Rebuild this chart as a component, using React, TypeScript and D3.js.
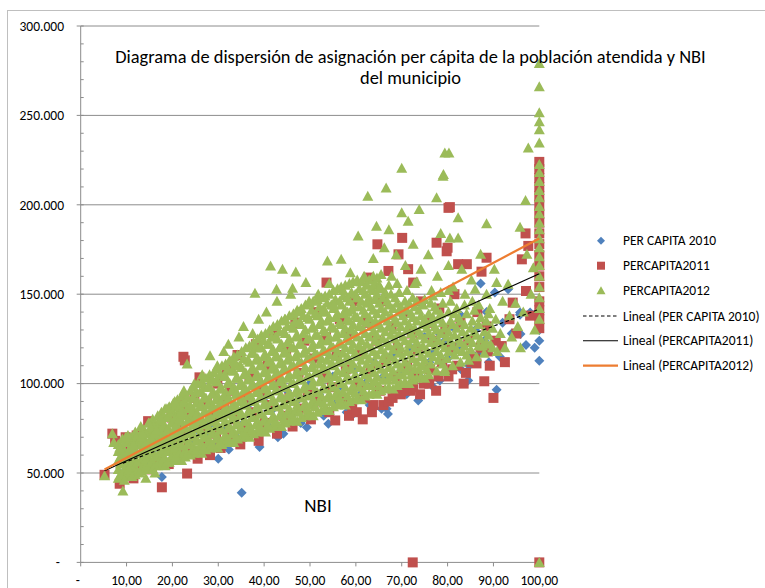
import React from "react";
import * as d3 from "d3";

// NBI (%) vs per-capita allocation (thousands of pesos)
const perCapita2010: [number, number][] = [
  [9.2,50],[10.7,49.7],[11.5,56],[12.5,52],[13.5,60],[14.5,55],[15.5,62],[16.5,58],[17.7,47.8],[18.5,64],[19.5,57],[20.5,66],[21.5,60],[22.5,70],[23.5,62],[24.5,68],[25.5,74],[26.5,64],[27.5,72],[28.5,78],[29.5,66],[30,58],[31,76],[32.3,63.2],[33,82],[34,70],[35.1,39],[35.5,78],[36.5,88],[37.5,72],[38.5,84],[39,64.5],[40,92],[41,76],[42,86],[43,70],[44.2,72],[45,96],[46,82],[47,90],[48,78],[49.3,75.6],[50,100],[51,88],[52,94],[53,82],[54,77.5],[55,104],[56,90],[57,98],[58,84],[59.1,82.2],[59.1,86.8],[60,108],[61,94],[62,100],[63,88],[64,112],[65.6,85.9],[66.7,85.9],[66,104],[67,83],[68,116],[69,96],[70,108],[71.1,94.2],[72,120],[73.6,90.5],[74,104],[75,126],[76,112],[76.9,97.9],[77,118],[78.3,101.7],[78.3,127.7],[79.4,124],[80,114],[81,132],[82,120],[82.9,108],[83,138],[84.5,101.7],[84.7,110],[85.3,116.5],[86.7,116.5],[86,130],[87.2,156],[88,124],[88.5,140],[89,112],[90.3,150.9],[90.7,96.5],[91.4,115],[92,134],[93.2,152.8],[94,128],[95.8,139.7],[95.8,138.5],[95.9,127.7],[97.1,121.6],[98,139.7],[99,120],[100,124],[100,112.8],[100,130],[100,140]
];

const perCapita2011: [number, number][] = [
  [5.2,49],[6.9,72],[7.5,68],[8.5,44],[9.8,70],[10.2,56],[10.8,62],[11.5,47],[12.2,71],[12.8,53],[13.5,66],[14.2,60],[14.7,79],[15.5,52],[16.2,69],[16.8,58],[17.7,42],[17.5,74],[18.5,63],[19.2,55],[19.8,81],[20.5,68],[21.2,60],[21.8,88],[22.4,115],[22.7,113],[22.2,74],[23.2,49.7],[23.5,64],[24.2,82],[24.8,92],[25.5,58],[25.9,103.5],[26.2,76],[26.8,66],[27.5,90],[28.2,60],[28.8,82],[29.5,72],[29.8,100],[30.5,64],[31.2,88],[31.8,108],[32.2,70],[32.8,96],[33.5,80],[34.2,116],[34.8,66],[35.5,92],[36.2,74],[36.8,104],[37.5,84],[38.2,122],[38.8,68],[39.5,96],[40.2,78],[40.8,110],[41.5,88],[42.2,128],[42.8,72],[43.5,100],[44.2,82],[44.8,118],[45.5,92],[46.2,76],[46.8,134],[47.5,106],[48.2,86],[48.8,124],[49.5,96],[50.2,80],[50.8,114],[51.5,140],[52.2,90],[52.8,104],[53.6,156.5],[53.5,126],[54.2,84],[54.8,98],[55.5,79.4],[55.8,116],[56.5,136],[57.2,92],[57.8,108],[58.5,128],[58.5,82],[59.2,86],[59.8,146],[60.2,84],[60.5,100],[61.2,118],[61.5,80],[61.8,92],[62.7,159.3],[62.5,134],[63.2,108],[63.5,84],[63.8,88],[64.7,177.9],[64.5,124],[65.2,96],[65.8,146],[66,88],[66.5,112],[67.1,163],[67.2,90],[67.8,132],[68,92],[68.5,104],[69.3,172.3],[69.2,120],[69.8,94],[70,96],[70.1,181.5],[70.5,140],[71.2,110],[71.4,164],[71.8,96],[72.5,156.5],[72.2,128],[72.4,0],[72.5,98],[72.8,104],[73.5,118],[74,94],[74.2,146],[74.8,100],[75.5,134],[76,100],[76.2,108],[76.8,124],[77.6,178.8],[77.5,96],[78,104],[78.2,142],[78.8,112],[79.8,174],[79.5,130],[80,176],[80.2,198.3],[80.5,198.7],[80.2,104],[80.8,120],[81,108],[81.5,150],[82.3,166.8],[82.2,110],[82.8,134],[83.5,100],[84,106],[84.2,166.8],[84.5,124],[85.2,112],[86,114],[86.3,111.3],[86.5,140],[87.4,162.6],[87.2,120],[88,101.3],[88.5,170.4],[88.5,132],[88.8,118],[89.2,110],[90,92],[90.5,124],[91.8,121],[92.5,112],[93.5,136],[94.2,145.3],[95,128],[96.2,169.5],[97,184],[97.6,177],[97.1,151.8],[98,138],
  [100,224],[100,220],[100,215],[100,210],[100,205],[100,200],[100,195],[100,190],[100,184],[100,178],[100,172],[100,166],[100,160],[100,154],[100,146],[100,141],[100,136],[100,131],[100,0]
];

// 2012: scattered points and outliers
const perCapita2012: [number, number][] = [
  [5.2,48.5],[6.9,72],[7.2,67],[8.5,64],[9.2,40],[9.5,46],[9.8,70],[10.5,52],[11.2,48],[11.5,66],[12.8,50],[13.2,70],[13.5,72],[14.2,47],[14.8,78],[16.2,50],[16.5,74],[17.5,80],[18.8,86],[20.5,90],[21.8,84],[22.5,96],[23.2,111],[23.8,88],[24.8,100],[26.5,105],[28.2,115.6],[28.8,102],[29.8,110],[31.2,118],[32.2,122],[33.5,112],[34.5,126],[35.5,132],[37.5,128],[38,150.6],[38.8,136],[40.5,140],[41.4,165.8],[42.7,152.8],[42.8,146],[44,164],[44.5,136],[45.8,150],[46.9,162.4],[46.2,153.3],[47.5,140],[49.1,156.5],[49.8,146],[51.8,150],[52.8,140],[53.8,168.5],[54.2,156],[55.2,144],[56.8,169.5],[57.2,152],[58.2,140],[58.8,162],[60.2,148],[60.5,182.5],[61.8,160],[62.6,204.8],[62.5,146],[63.8,170],[64.5,188],[65.2,154],[66.2,176],[66.6,209.4],[67.2,186],[67.8,160],[68.8,172],[70,220.5],[70,195.5],[70.8,166],[71.4,190.8],[72.5,178],[72.8,156],[73.8,197.4],[74.2,164],[75.8,172],[76.5,152],[77.6,203.9],[77.8,160],[78.5,184],[79,216],[79.1,216.9],[79.4,229],[80.3,229],[79.4,106.7],[80.2,166],[80.5,181.5],[81.2,154],[82.3,192.7],[82.3,181.5],[83.1,164],[83.8,150],[85.2,158],[86,152.8],[86.8,144],[87.2,172.3],[88.5,189.4],[88.5,150],[89.2,142],[90.2,164],[90.7,156.5],[90.5,136],[90.8,118],[91.5,128],[92,146],[92.5,120],[93.2,155.6],[93.5,138],[94,126],[94.8,145],[95.3,132],[95.8,187.5],[95.9,120],[96.5,140],[97,202.4],[97.3,172.3],[97.6,231.7],[98.2,150],[98.7,164.8],[99,130],
  [100,279],[100,266],[100,251.5],[100,246.5],[100,242],[100,234.5],[100,222.6],[100,218],[100,213],[100,208],[100,204],[100,199],[100,195],[100,190],[100,186],[100,181],[100,176],[100,171],[100,166],[100,160],[100,154],[100,148],[100,142],[100,136],[100,0]
];

// 2012: dense core of the cloud, one row per NBI value: [nbi, values...]
const perCapita2012Core: number[][] = [
  [8.2,47,52,57,62,66],[9.1,49,55,60,64,69],[10.3,48,51,56,61,67,71],[11.0,50,54,59,65,70],[11.9,49,53,58,63,68,73],
  [13.1,51,57,61,66,72,76],[13.8,52,55,60,64,69,74],[14.9,53,58,63,67,73,78],[15.7,52,56,62,69,75,80],[16.8,54,59,65,70,77,82],
  [17.6,55,61,64,72,79,84],[18.4,54,58,66,71,76,86],[19.3,56,62,68,74,81,87],[20.2,57,60,67,73,78,84,89],[21.1,58,63,70,76,83,91],
  [22.0,57,65,72,79,86,93],[22.8,59,62,69,75,82,89,94],[23.9,60,66,73,81,87,96],[24.7,61,64,71,78,85,92,98],[25.5,62,68,75,83,90,100],
  [26.4,61,66,73,80,88,95,101],[27.3,63,70,77,84,92,103],[28.1,64,68,75,82,90,98,105],[29.0,65,72,79,87,95,106],[29.9,64,70,77,85,93,101,108],
  [30.8,66,74,81,89,97,110],[31.6,67,71,79,87,95,104,111],[32.5,68,76,83,91,100,113],[33.4,67,73,81,89,98,107,115],[34.2,69,78,86,94,103,116],
  [35.1,70,75,83,92,100,109,118],[36.0,71,79,88,97,106,120],[36.8,70,77,85,94,103,112,121],[37.7,72,81,90,99,108,117,123],[38.6,73,79,87,96,105,114,125],
  [39.4,74,83,92,101,110,120,127],[40.3,73,80,89,98,107,116,128],[41.2,75,85,94,103,113,122,130],[42.0,76,82,91,100,110,119,132],[42.9,77,87,96,106,115,125,133],
  [43.8,76,84,93,103,112,122,135],[44.6,78,88,98,108,118,128,136],[45.5,79,86,95,105,115,125,138],[46.4,80,90,100,110,120,131,139],[47.2,79,88,97,107,117,127,141],
  [48.1,81,92,102,112,122,133,142],[49.0,82,89,99,109,119,130,144],[49.9,83,93,104,114,125,136,145],[50.7,82,91,101,111,122,132,146],[51.6,84,95,106,116,127,138,147],
  [52.5,85,93,103,114,124,135,148],[53.3,86,97,108,118,129,140,149],[54.2,85,94,105,116,126,137,150],[55.1,87,98,110,120,131,142,152],[56.0,88,96,107,118,128,139,153],
  [56.8,89,100,112,122,133,144,154],[57.7,88,98,109,120,131,141,155],[58.6,90,102,113,124,135,146,156],[59.4,91,99,111,122,133,143,157],[60.3,92,103,115,126,137,148,158],
  [61.2,91,101,113,124,135,146,157],[62.0,93,105,116,128,139,150,159],[62.9,94,103,114,126,137,148,158],[63.8,95,106,118,129,141,152,160],[64.6,94,104,116,127,139,150,159],
  [65.5,96,108,119,131,142,153,161],[66.4,97,106,117,129,140,151],[67.2,98,109,121,132,144,155],[68.1,97,107,119,130,142],[69.0,99,111,122,134,145,156],
  [69.8,100,109,120,132,143],[70.7,101,112,124,135,146],[71.6,100,110,122,133,145],[72.4,102,114,125,137,148],[73.3,103,112,123,135,146,157],
  [74.2,104,115,127,138],[75.0,103,113,125,136,147],[75.9,105,117,128,139],[76.8,115,126,137,149],[77.6,107,118,130,141],
  [78.5,116,128,139,151],[79.4,108,120,131],[80.2,118,129,140,152],[81.1,110,121,133],[82.0,119,131,142],
  [82.8,112,123,135],[83.7,121,133,144],[84.6,113,125],[85.4,123,135,146],[86.3,115,127],
  [87.2,125,137],[88.0,117,129],[88.9,127,139],[89.8,120,131]
];

// 2012: more of the dense core, between the rows above
const perCapita2012Core2: number[][] = [
  [8.65,49,55,59,64],[9.55,52,58,62,67],[10.75,50,54,59,64,69],[11.45,52,57,62,68],[12.35,51,56,61,66,71],
  [13.55,54,59,64,69,74],[14.25,54,58,62,67,72],[15.35,56,61,65,70,76],[16.15,54,59,66,72,78],[17.25,57,62,68,74,80],
  [18.05,58,63,68,76,82],[18.85,56,62,69,74,81],[19.75,59,65,71,78,84],[20.65,59,64,70,76,81,87],[21.55,61,67,73,80,87],
  [22.45,61,69,76,83,90],[23.25,61,66,72,79,86,92],[24.35,63,70,77,84,92],[25.15,63,68,75,82,89,95],[25.95,65,72,79,87,95],
  [26.85,64,70,77,84,92,98],[27.75,67,74,81,88,98],[28.55,66,72,79,86,94,102],[29.45,69,76,83,91,101],[30.35,67,74,81,89,97,105],
  [31.25,70,78,85,93,104],[32.05,69,75,83,91,100,108],[32.95,72,80,87,96,107],[33.85,70,77,85,94,103,111],[34.65,74,82,90,99,110],
  [35.55,73,79,88,96,105,114],[36.45,75,84,93,102,113],[37.25,74,81,90,99,108,117],[38.15,77,86,95,104,113,120],[39.05,76,83,92,101,110,120],
  [39.85,79,88,97,106,115,124],[40.75,77,85,94,103,112,122],[41.65,80,90,99,108,118,126],[42.45,79,87,96,105,115,126],[43.35,82,92,101,111,120,129],
  [44.25,80,89,98,108,117,129],[45.05,83,93,103,113,123,132],[45.95,83,91,100,110,120,132],[46.85,85,95,105,115,126,135],[47.65,84,93,102,112,122,134],
  [48.55,87,97,107,117,128,138],[49.45,86,94,104,114,125,137],[50.35,88,99,109,120,131,141],[51.15,87,96,106,117,127,139],[52.05,90,101,111,122,133,143],
  [52.95,89,98,109,119,130,142],[53.75,92,103,113,124,135,145],[54.65,90,100,111,121,132,144],[55.55,93,104,115,126,137,147],[56.45,92,102,113,123,134,146],
  [57.25,95,106,117,128,139,149],[58.15,93,104,115,126,136,148],[59.05,96,108,119,130,141,151],[59.85,95,105,117,128,138,150],[60.75,98,109,121,132,143,153],
  [61.65,96,107,119,130,141,152],[62.45,99,111,122,134,145,155],[63.35,99,109,120,132,143,153],[64.25,101,112,124,135,147,156],[65.05,99,110,122,133,145,155],
  [65.95,102,114,125,137,148],[66.85,102,112,123,135,146],[67.65,104,115,127,138,150],[68.55,102,113,125,136,148],[69.45,105,117,128,140,151],
  [70.25,105,115,126,138],[71.15,107,118,130,141,152],[72.05,105,116,128,139],[72.85,108,120,131,143],[73.75,108,118,129,141],
  [74.65,110,121,133,144],[75.45,108,119,131],[76.35,111,123,134,145],[77.25,121,132,143],[78.05,113,124,136],
  [78.95,111,122,134,145],[79.85,114,126],[80.65,124,135,146],[81.55,116,127,139],[82.45,125,137],
  [83.25,118,129],[84.15,116,127,139],[85.05,119,131],[85.85,129,141],[86.75,121,133],
  [87.65,121],[88.45,123,135],[89.35,122]
];

// Linear trend lines: value = intercept + slope * NBI (thousands)
const trendIntercepts = [46.8, 45.2, 44.9];
const trendSlopes = [0.948, 1.163, 1.363];

const seriesNames = ["PER CAPITA 2010", "PERCAPITA2011", "PERCAPITA2012"];
const trendNames = ["Lineal (PER CAPITA 2010)", "Lineal (PERCAPITA2011)", "Lineal (PERCAPITA2012)"];
const xTicks = [0, 10, 20, 30, 40, 50, 60, 70, 80, 90, 100];
const yTicks = [0, 50, 100, 150, 200, 250, 300];
const yMinorTicks = d3.range(0, 301, 10);
const titleLines = [
  "Diagrama de dispersión de asignación per cápita de la población atendida y NBI",
  "del municipio",
];
const xAxisTitle = "NBI";

const W = 765, H = 588;
const FONT = "Carlito, Calibri, Lato, 'Liberation Sans', sans-serif";
const colors = ["#4F81BD", "#C0504D", "#9BBB59"];
const trendColors = ["#000000", "#000000", "#ED7D31"];

const markerPaths = [
  "M0,-5L5,0L0,5L-5,0Z",
  "M-5,-5L5,-5L5,5L-5,5Z",
  "M0,-5.5L5.5,4.5L-5.5,4.5Z",
];
const legendMarkerPaths = [
  "M0,-4L4,0L0,4L-4,0Z",
  "M-4,-4L4,-4L4,4L-4,4Z",
  "M0,-4.5L4.5,3.5L-4.5,3.5Z",
];

export default function App() {
  const x = d3.scaleLinear().domain([0, 100]).range([80.7, 539.3]);
  const y = d3.scaleLinear().domain([0, 300]).range([562.4, 26]);
  const rowsToPoints = (rows: number[][]) =>
    rows.flatMap((r) => r.slice(1).map((v) => [r[0], v] as [number, number]));
  const all2012: [number, number][] = [
    ...rowsToPoints(perCapita2012Core),
    ...rowsToPoints(perCapita2012Core2),
    ...perCapita2012,
  ];
  const series = [perCapita2010, perCapita2011, all2012];
  const yFmt = (v: number) => (v === 0 ? "-" : `${v}.000`);
  const xFmt = (v: number) => (v === 0 ? "-" : d3.format(".2f")(v).replace(".", ","));
  const line = d3.line<[number, number]>().x((d) => x(d[0])).y((d) => y(d[1]));

  const legendRows = [240.7, 265.7, 290.7, 316, 340.7, 365.7];
  const fs = 13.5;

  return (
    <svg width={W} height={H} style={{ position: "absolute", left: 0, top: 0 }} fontFamily={FONT}>
      <rect x={0} y={0} width={W} height={H} fill="#fff" />
      <rect x={7.5} y={10.5} width={W + 20} height={H + 20} fill="none" stroke="#BFBFBF" />
      {yTicks.filter((t) => t > 0).map((t) => (
        <line key={"g" + t} x1={x(0)} x2={x(100)} y1={y(t)} y2={y(t)} stroke="#8C8C8C" strokeWidth={1} />
      ))}
      <line x1={x(0)} x2={x(0)} y1={y(0)} y2={y(300)} stroke="#8C8C8C" />
      {yMinorTicks.map((t) => (
        <line key={"m" + t} x1={x(0)} x2={x(0) + 3} y1={y(t)} y2={y(t)} stroke="#8C8C8C" />
      ))}
      {yTicks.map((t) => (
        <g key={"y" + t}>
          <line x1={x(0) - 4} x2={x(0)} y1={y(t)} y2={y(t)} stroke="#8C8C8C" />
          <text x={t === 0 ? 60 : 64} y={y(t)} dy="0.35em" textAnchor="end" fontSize={fs} fill="#000">
            {yFmt(t)}
          </text>
        </g>
      ))}
      <line x1={x(0)} x2={x(100)} y1={y(0)} y2={y(0)} stroke="#8C8C8C" />
      {xTicks.map((t) => (
        <g key={"x" + t}>
          <line x1={x(t)} x2={x(t)} y1={y(0)} y2={y(0) + 4} stroke="#8C8C8C" />
          <text x={t === 0 ? x(t) - 3 : x(t)} y={580} dy="0.35em" textAnchor="middle" fontSize={fs} fill="#000">
            {xFmt(t)}
          </text>
        </g>
      ))}
      {series.map((s, i) => (
        <g key={"s" + i} fill={colors[i]}>
          {s.map((d, j) => (
            <path key={j} d={markerPaths[i]} transform={`translate(${x(d[0])},${y(d[1])})`} />
          ))}
        </g>
      ))}
      {series.map((s, i) => {
        const [x0, x1] = d3.extent(s, (d) => d[0]) as [number, number];
        const pts: [number, number][] = [
          [x0, trendIntercepts[i] + trendSlopes[i] * x0],
          [x1, trendIntercepts[i] + trendSlopes[i] * x1],
        ];
        return (
          <path key={"t" + i} d={line(pts) || ""} fill="none" stroke={trendColors[i]}
            strokeWidth={i === 2 ? 2.2 : 1.1} strokeDasharray={i === 0 ? "3.5,2.5" : undefined} />
        );
      })}
      {titleLines.map((l, i) => (
        <text key={"ti" + i} x={410.5} y={57 + i * 21} dy="0.35em" textAnchor="middle" fontSize={18.4} fill="#000">
          {l}
        </text>
      ))}
      <text x={318} y={505} dy="0.35em" textAnchor="middle" fontSize={19} fill="#000">{xAxisTitle}</text>
      {seriesNames.map((n, i) => (
        <g key={"l" + i}>
          <path d={legendMarkerPaths[i]} fill={colors[i]} transform={`translate(601,${legendRows[i]})`} />
          <text x={623} y={legendRows[i]} dy="0.35em" fontSize={fs} fill="#000">{n}</text>
        </g>
      ))}
      {trendNames.map((n, i) => (
        <g key={"lt" + i}>
          <line x1={583} x2={618} y1={legendRows[i + 3]} y2={legendRows[i + 3]} stroke={trendColors[i]}
            strokeWidth={i === 2 ? 2.2 : 1.1} strokeDasharray={i === 0 ? "3.5,2.5" : undefined} />
          <text x={623} y={legendRows[i + 3]} dy="0.35em" fontSize={fs} fill="#000">{n}</text>
        </g>
      ))}
    </svg>
  );
}
